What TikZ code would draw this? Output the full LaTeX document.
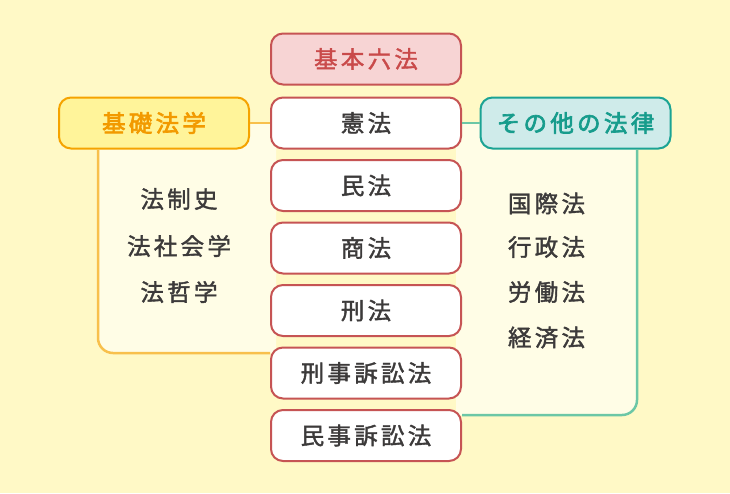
\documentclass[tikz,border=0pt]{standalone}
\usepackage{fontspec}
\newfontfamily\jpfont[LetterSpace=14, FakeBold=1.6]{Noto Sans CJK JP}
\newfontfamily\jplabel[LetterSpace=14, FakeBold=2.8]{Noto Sans CJK JP}
\definecolor{bgyellow}{HTML}{FFF9C6}
\definecolor{panelfill}{HTML}{FFFDE6}
\definecolor{kisoline}{HTML}{F8C04C}
\definecolor{kisofill}{HTML}{FFF49A}
\definecolor{kisodraw}{HTML}{F5A300}
\definecolor{kisotext}{HTML}{F29A00}
\definecolor{sonotafill}{HTML}{CFEBEA}
\definecolor{sonotadraw}{HTML}{1BA394}
\definecolor{sonotatext}{HTML}{179C8C}
\definecolor{sonotaline}{HTML}{6CC7A6}
\definecolor{boxred}{HTML}{C65454}
\definecolor{headfill}{HTML}{F7D4D4}
\definecolor{headtext}{HTML}{C94A4A}
\definecolor{ink}{HTML}{3C3A3A}
\begin{document}
\begin{tikzpicture}[x=1pt, y=-1pt,
		jp/.style={font=\jpfont\fontsize{23.5}{28}\selectfont, text=ink, inner sep=0pt},
		lawbox/.style={jp, draw=boxred, fill=white, line width=2pt, rounded corners=12pt,
			minimum width=190pt, minimum height=51pt},
		headbox/.style={lawbox, fill=headfill, text=headtext},
		kisobox/.style={lawbox, draw=kisodraw, fill=kisofill, text=kisotext, font=\jplabel\fontsize{23.5}{28}\selectfont},
		sonotabox/.style={lawbox, draw=sonotadraw, fill=sonotafill, text=sonotatext, font=\jplabel\fontsize{23.5}{28}\selectfont}]
		% Background
		\useasboundingbox (0,0) rectangle (730,493);
		\fill[bgyellow] (0,0) rectangle (730,493);

		% Panels
		\fill[panelfill] (276,123) -- (98,123) -- (98,338) arc[start angle=180, end angle=90, radius=15] -- (276,353) -- cycle;
		\fill[panelfill] (456,123) -- (637,123) -- (637,400) arc[start angle=0, end angle=90, radius=15] -- (456,415) -- cycle;
		\coordinate (lp) at (98,353);
		\coordinate (rp) at (637,415);

		% Six codes
		\node[headbox] (roppo) at (366,59) {基本六法};
		\node[lawbox] (kenpo) at (366,123) {憲法};
		\node[lawbox] (minpo) at (366,185.5) {民法};
		\node[lawbox] (shoho) at (366,248) {商法};
		\node[lawbox] (keiho) at (366,310.5) {刑法};
		\node[lawbox] (keiso) at (366,373) {刑事訴訟法};
		\node[lawbox] (minso) at (366,435.5) {民事訴訟法};

		% Basic legal studies
		\node[kisobox] (kiso) at (154,123) {基礎法学};
		\draw[kisoline, line width=2.5pt] (kiso.east) -- (kenpo.west);
		\draw[kisoline, line width=2.5pt, rounded corners=15pt] (kiso.south -| lp) -- (lp) -- (lp -| keiso.west);
		\node[jp] (seido) at (179,199) {法制史};
		\node[jp] (shakai) at (179,246) {法社会学};
		\node[jp] (tetsu) at (179,292) {法哲学};

		% Other laws
		\node[sonotabox] (sonota) at (575.5,123) {その他の法律};
		\draw[sonotaline, line width=2.5pt] (kenpo.east) -- (sonota.west);
		\draw[sonotaline, line width=2.5pt, rounded corners=15pt] (sonota.south -| rp) -- (rp) -- (rp -| minso.east);
		\node[jp] (kokusai) at (546.5,203.5) {国際法};
		\node[jp] (gyosei) at (546.5,247) {行政法};
		\node[jp] (rodo) at (546.5,292) {労働法};
		\node[jp] (keizai) at (546.5,337.5) {経済法};
\end{tikzpicture}
\end{document}
